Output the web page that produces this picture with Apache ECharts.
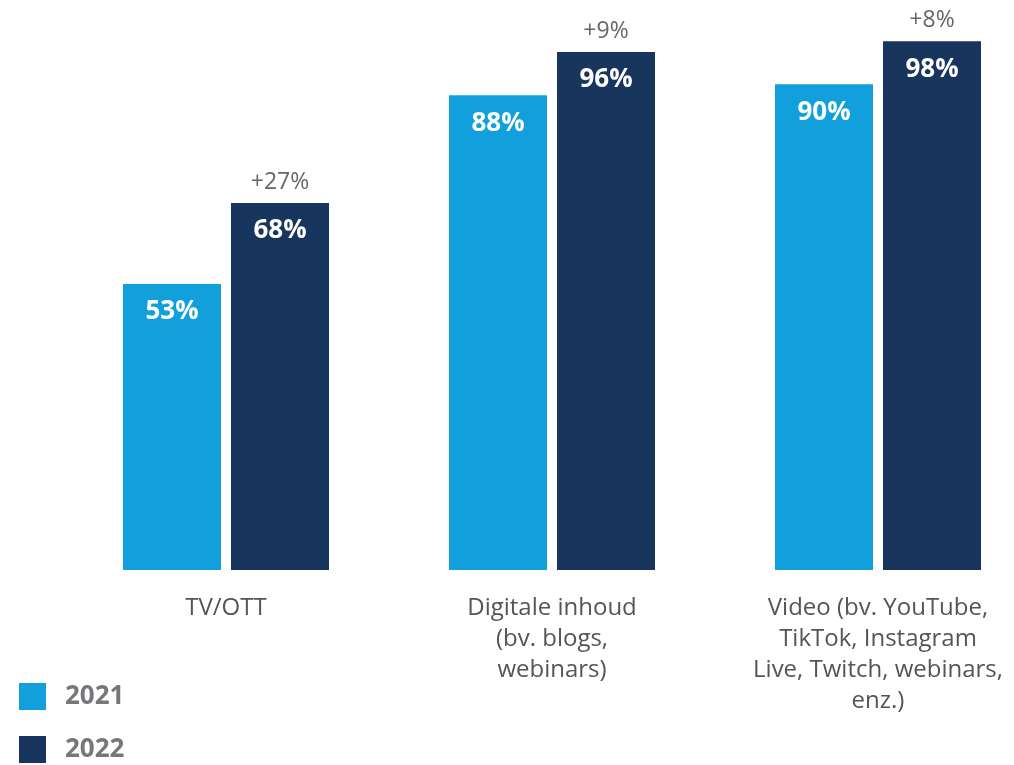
<!DOCTYPE html>
<html>
<head>
<meta charset="utf-8">
<script src="https://cdn.jsdelivr.net/npm/echarts@6/dist/echarts.min.js"></script>
<style>
  html, body { margin: 0; padding: 0; background: #ffffff; }
  #chart { width: 1014px; height: 765px; }
</style>
</head>
<body>
<div id="chart"></div>
<script>
// Channel categories (x axis)
const categories = [
  'TV/OTT',
  'Digitale inhoud\n(bv. blogs,\nwebinars)',
  'Video (bv. YouTube,\nTikTok, Instagram\nLive, Twitch, webinars,\nenz.)'
];
// Share of respondents per year (%)
const values2021 = [53, 88, 90];
const values2022 = [68, 96, 98];
// Growth labels shown above the 2022 bars
const growthLabels = ['+27%', '+9%', '+8%'];

const COLOR_2021 = '#12A0DC';
const COLOR_2022 = '#18355E';
const FONT = '"Open Sans", Lato, sans-serif';
const BAR_W = 98;
const BAR_GAP = '10.2%';

const chart = echarts.init(document.getElementById('chart'), null, { renderer: 'canvas' });

const valueLabel = {
  show: true,
  position: 'insideTop',
  distance: 15,
  color: '#ffffff',
  fontFamily: FONT,
  fontWeight: 'bold',
  fontSize: 26,
  formatter: p => p.value + '%'
};

const hiddenBar = { color: 'rgba(0,0,0,0)' };

chart.setOption({
  animation: false,
  backgroundColor: '#ffffff',
  grid: {
    left: 63,
    right: -27,
    top: 30.4,
    bottom: 195,
    containLabel: false,
    outerBoundsMode: 'none'
  },
  legend: {
    data: ['2021', '2022'],
    orient: 'vertical',
    left: 19,
    top: 683,
    padding: 0,
    itemWidth: 27,
    itemHeight: 27,
    itemGap: 26,
    icon: 'rect',
    selectedMode: false,
    textStyle: { color: '#77777b', fontFamily: FONT, fontWeight: 'bold', fontSize: 26, padding: [0, 0, 0, 14] }
  },
  xAxis: [
    {
      type: 'category',
      data: categories,
      axisLine: { show: false },
      axisTick: { show: false },
      axisLabel: {
        margin: 23,
        color: '#555558',
        fontFamily: FONT,
        fontSize: 24,
        lineHeight: 31,
        align: 'center',
        interval: 0
      }
    },
    {
      // overlay axis, same layout, used only for the growth labels
      type: 'category',
      data: categories,
      show: false,
      position: 'bottom'
    }
  ],
  yAxis: {
    type: 'value',
    min: 0,
    max: 100,
    show: false,
    splitLine: { show: false }
  },
  series: [
    {
      name: '2021',
      type: 'bar',
      data: values2021,
      barWidth: BAR_W,
      barGap: BAR_GAP,
      itemStyle: { color: COLOR_2021 },
      label: valueLabel
    },
    {
      name: '2022',
      type: 'bar',
      data: values2022,
      barWidth: BAR_W,
      barGap: BAR_GAP,
      itemStyle: { color: COLOR_2022 },
      label: valueLabel
    },
    {
      name: 'spacer',
      type: 'bar',
      xAxisIndex: 1,
      data: values2021,
      barWidth: BAR_W,
      barGap: BAR_GAP,
      itemStyle: hiddenBar,
      silent: true
    },
    {
      name: 'growth',
      type: 'bar',
      xAxisIndex: 1,
      data: values2022,
      barWidth: BAR_W,
      barGap: BAR_GAP,
      itemStyle: hiddenBar,
      silent: true,
      label: {
        show: true,
        position: 'top',
        distance: 9,
        color: '#66666a',
        fontFamily: FONT,
        fontSize: 23,
        formatter: p => growthLabels[p.dataIndex]
      }
    }
  ]
});
</script>
</body>
</html>
